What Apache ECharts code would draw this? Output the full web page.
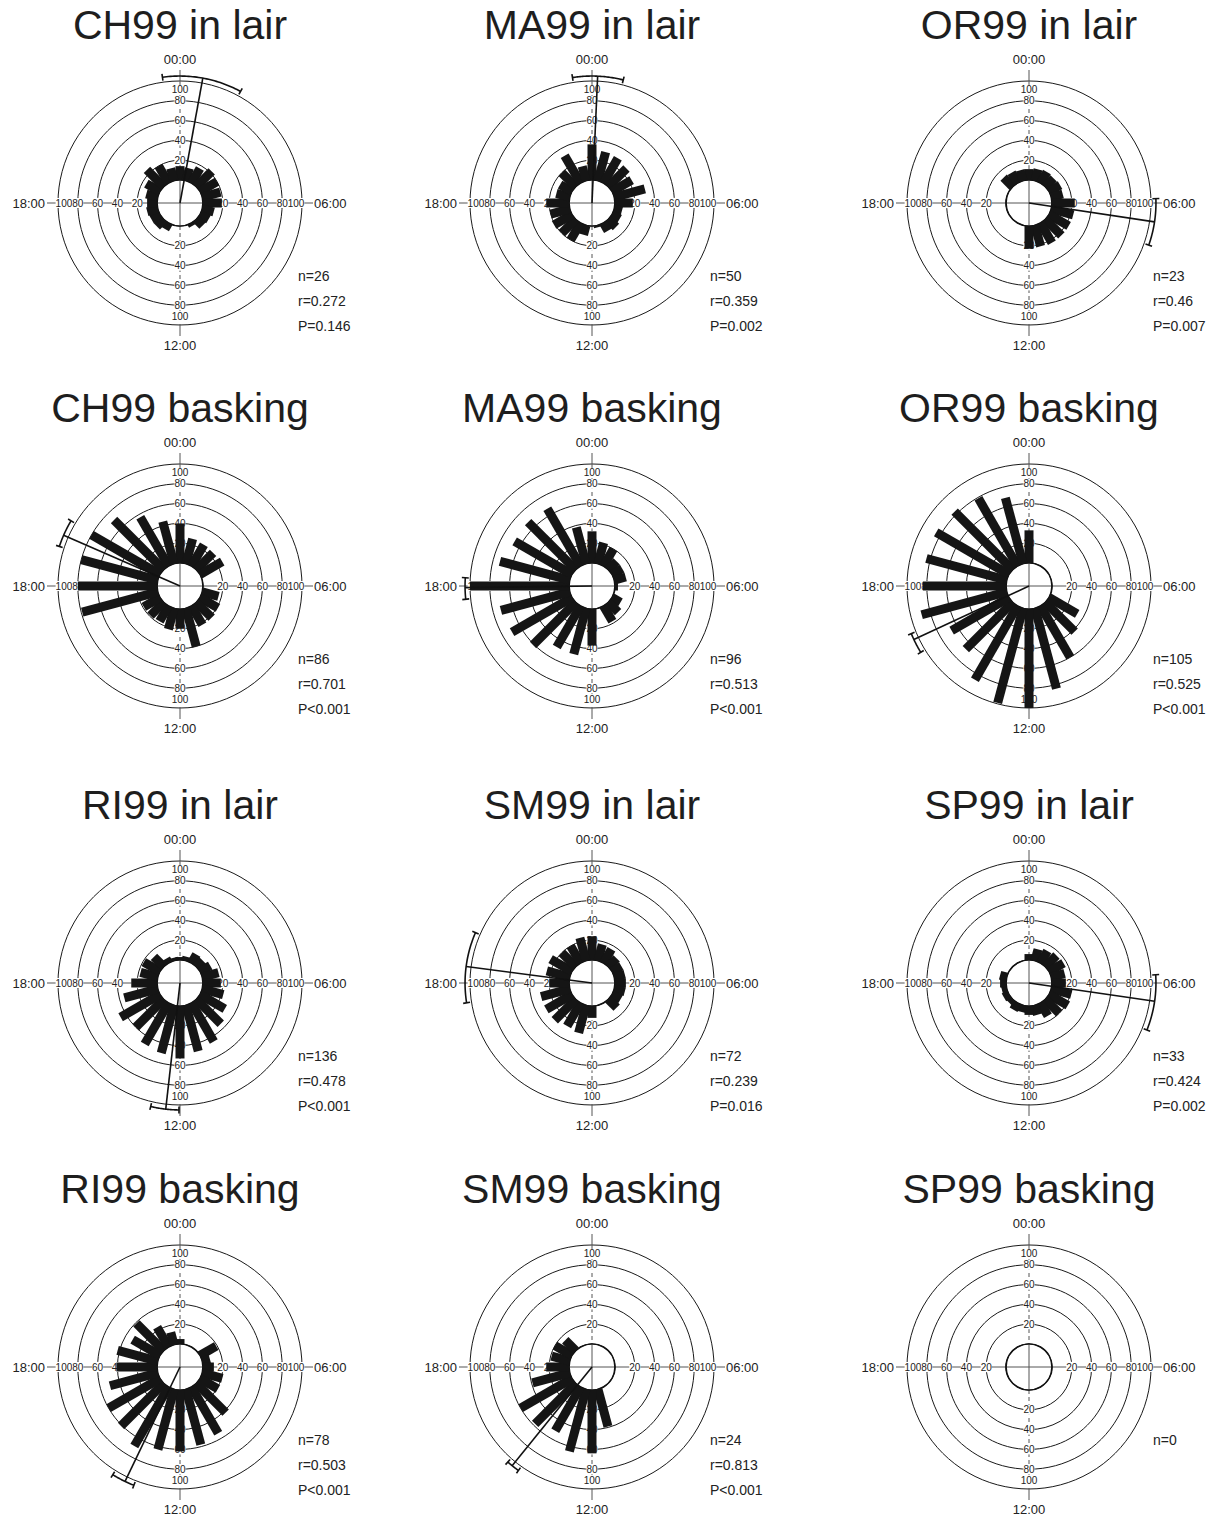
<!DOCTYPE html>
<html>
<head>
<meta charset="utf-8">
<title>Daily activity roses</title>
<script src="https://cdn.jsdelivr.net/npm/echarts@6/dist/echarts.min.js"></script>
<style>
  html, body { margin: 0; padding: 0; background: #fff; }
  #chart { width: 1213px; height: 1517px; }
</style>
</head>
<body>
<div id="chart"></div>
<script>
// hourly bins, 00:00 at the top, clockwise
const hours = [0, 1, 2, 3, 4, 5, 6, 7, 8, 9, 10, 11, 12, 13, 14, 15, 16, 17, 18, 19, 20, 21, 22, 23]

const panelTitles = [
  'CH99 in lair', 'MA99 in lair', 'OR99 in lair',
  'CH99 basking', 'MA99 basking', 'OR99 basking',
  'RI99 in lair', 'SM99 in lair', 'SP99 in lair',
  'RI99 basking', 'SM99 basking', 'SP99 basking'
]

// bar lengths, one per hour
const ch99Lair = [14, 13, 17, 22, 20, 19, 19, 12, 10, 9, 3, 0, 0, 0, 7, 10, 10, 11, 10, 12, 16, 24, 20, 13]
const ma99Lair = [36, 30, 29, 26, 23, 32, 18, 8, 9, 11, 9, 2, 0, 10, 20, 20, 21, 20, 23, 14, 14, 20, 32, 15]
const or99Lair = [11, 12, 13, 12, 13, 12, 23, 23, 23, 23, 23, 22, 23, 0, 0, 0, 0, 0, 0, 0, 0, 13, 12, 11]
const ch99Bask = [40, 26, 25, 24, 26, 0, 0, 17, 21, 22, 22, 40, 20, 22, 18, 19, 19, 79, 80, 80, 80, 71, 57, 44]
const ma99Bask = [32, 22, 20, 12, 12, 12, 3, 0, 10, 14, 18, 0, 37, 48, 48, 61, 70, 72, 100, 73, 67, 68, 67, 38]
const or99Bask = [33, 0, 0, 0, 0, 0, 0, 0, 33, 42, 60, 84, 100, 99, 86, 67, 67, 89, 84, 84, 85, 83, 79, 69]
const ri99Lair = [3, 4, 10, 9, 12, 17, 18, 22, 29, 35, 45, 48, 53, 50, 48, 40, 46, 35, 26, 18, 19, 14, 5, 3]
const sm99Lair = [24, 17, 16, 12, 11, 11, 11, 11, 10, 12, 0, 0, 12, 29, 27, 30, 30, 30, 20, 24, 25, 20, 20, 24]
const sp99Lair = [6, 12, 14, 16, 17, 14, 14, 21, 22, 20, 15, 10, 9, 7, 8, 5, 6, 5, 6, 7, 0, 0, 0, 0]
const ri99Bask = [5, 0, 0, 0, 19, 8, 11, 21, 21, 42, 54, 58, 62, 63, 69, 61, 60, 50, 41, 42, 32, 39, 23, 13]
const sm99Bask = [0, 0, 0, 0, 0, 0, 0, 0, 0, 0, 0, 39, 64, 65, 51, 58, 60, 39, 23, 19, 20, 15, 0, 0]
const sp99Bask = [0, 0, 0, 0, 0, 0, 0, 0, 0, 0, 0, 0, 0, 0, 0, 0, 0, 0, 0, 0, 0, 0, 0, 0]

const panelCounts = [
  ch99Lair, ma99Lair, or99Lair,
  ch99Bask, ma99Bask, or99Bask,
  ri99Lair, sm99Lair, sp99Lair,
  ri99Bask, sm99Bask, sp99Bask
]

// mean direction (hours) and its confidence interval; null = no vector
const meanHour = [0.69, 0.17, 6.57, 19.57, 17.95, 16.34, 12.43, 18.5, 6.55, 13.71, 14.6, null]
const ciLow = [-0.53, -0.59, 5.87, 19.21, 17.6, 15.9, 12.03, 17.4, 5.75, 13.42, 14.36, null]
const ciHigh = [1.9, 0.95, 7.29, 20.06, 18.25, 16.53, 12.89, 19.56, 7.45, 14.13, 14.77, null]

const nText = ['n=26', 'n=50', 'n=23', 'n=86', 'n=96', 'n=105', 'n=136', 'n=72', 'n=33', 'n=78', 'n=24', 'n=0']
const rText = ['r=0.272', 'r=0.359', 'r=0.46', 'r=0.701', 'r=0.513', 'r=0.525', 'r=0.478', 'r=0.239', 'r=0.424', 'r=0.503', 'r=0.813', '']
const pText = ['P=0.146', 'P=0.002', 'P=0.007', 'P<0.001', 'P<0.001', 'P<0.001', 'P<0.001', 'P=0.016', 'P=0.002', 'P<0.001', 'P<0.001', '']

const radialTicks = [100, 80, 60, 40, 20]
const tickHours = [0, 6, 12, 18]

// layout
const colX = [180, 592, 1029]
const rowY = [203, 586, 983, 1367]
const statX = [298, 710, 1153]
const FONT = '"Liberation Sans", Arial, Helvetica, sans-serif'
const BAR_HALF = 4.5
const VEC_R = 105

const chart = echarts.init(document.getElementById('chart'), null, { renderer: 'svg' })

function renderFrame(params, api) {
  const cs = params.coordSys
  const cx = cs.cx
  const cy = cs.cy
  const r0 = cs.r0
  const r = cs.r
  const ext = r + 11
  const axisColor = '#555'
  const children = [
    // horizontal axis
    { type: 'line', shape: { x1: cx - ext, y1: cy, x2: cx + ext, y2: cy }, style: { stroke: axisColor, lineWidth: 1 } },
    // vertical axis: solid outside and in the hole, dashed across the rings
    { type: 'line', shape: { x1: cx, y1: cy - ext, x2: cx, y2: cy - r }, style: { stroke: axisColor, lineWidth: 1 } },
    { type: 'line', shape: { x1: cx, y1: cy - r, x2: cx, y2: cy - r0 }, style: { stroke: axisColor, lineWidth: 1, lineDash: [4, 3] } },
    { type: 'line', shape: { x1: cx, y1: cy - r0, x2: cx, y2: cy + r0 }, style: { stroke: axisColor, lineWidth: 1 } },
    { type: 'line', shape: { x1: cx, y1: cy + r0, x2: cx, y2: cy + r }, style: { stroke: axisColor, lineWidth: 1, lineDash: [4, 3] } },
    { type: 'line', shape: { x1: cx, y1: cy + r, x2: cx, y2: cy + ext }, style: { stroke: axisColor, lineWidth: 1 } },
    // inner hole
    { type: 'circle', shape: { cx: cx, cy: cy, r: r0 }, style: { fill: 'none', stroke: '#111', lineWidth: 1.7 } }
  ]
  radialTicks.forEach(t => {
    tickHours.forEach(h => {
      // the 100 label sits just inside the outer ring
      let rv = t
      if (t === 100) rv = (h % 12 === 0) ? 91 : 94
      const p = api.coord([rv, h])
      children.push({
        type: 'text',
        x: p[0],
        y: p[1],
        style: {
          text: String(t),
          font: '10px ' + FONT,
          fill: '#222',
          align: 'center',
          verticalAlign: 'middle',
          backgroundColor: '#fff',
          padding: [0, 0]
        }
      })
    })
  })
  const timeStyle = { font: '13px ' + FONT, fill: '#222', verticalAlign: 'middle' }
  children.push(
    { type: 'text', x: cx, y: cy - r - 22, style: Object.assign({ text: '00:00', align: 'center' }, timeStyle) },
    { type: 'text', x: cx, y: cy + r + 20, style: Object.assign({ text: '12:00', align: 'center' }, timeStyle) },
    { type: 'text', x: cx - r - 13, y: cy, style: Object.assign({ text: '18:00', align: 'right' }, timeStyle) },
    { type: 'text', x: cx + r + 12, y: cy, style: Object.assign({ text: '06:00', align: 'left' }, timeStyle) }
  )
  return { type: 'group', children: children }
}

function renderBar(params, api) {
  const v = api.value(0)
  if (!v) return { type: 'group', children: [] }
  const h = api.value(1)
  const p0 = api.coord([0, h])
  const p1 = api.coord([v, h])
  const dx = p1[0] - p0[0]
  const dy = p1[1] - p0[1]
  const len = Math.sqrt(dx * dx + dy * dy)
  const nx = -dy / len * BAR_HALF
  const ny = dx / len * BAR_HALF
  return {
    type: 'polygon',
    shape: {
      points: [
        [p0[0] + nx, p0[1] + ny],
        [p1[0] + nx, p1[1] + ny],
        [p1[0] - nx, p1[1] - ny],
        [p0[0] - nx, p0[1] - ny]
      ]
    },
    style: { fill: '#151515' }
  }
}

function renderVector(params, api) {
  const cs = params.coordSys
  const rv = api.value(0)
  const m = api.value(1)
  const lo = api.value(2)
  const hi = api.value(3)
  const end = api.coord([rv, m])
  const arc = []
  for (let k = 0; k <= 40; k++) {
    arc.push(api.coord([rv, lo + (hi - lo) * k / 40]))
  }
  const capLo = [api.coord([rv - 3.5, lo]), api.coord([rv + 3.5, lo])]
  const capHi = [api.coord([rv - 3.5, hi]), api.coord([rv + 3.5, hi])]
  const st = { stroke: '#111', lineWidth: 1.6, fill: 'none' }
  return {
    type: 'group',
    children: [
      { type: 'line', shape: { x1: cs.cx, y1: cs.cy, x2: end[0], y2: end[1] }, style: st },
      { type: 'polyline', shape: { points: arc }, style: st },
      { type: 'polyline', shape: { points: capLo }, style: st },
      { type: 'polyline', shape: { points: capHi }, style: st }
    ]
  }
}

const polar = []
const radiusAxis = []
const angleAxis = []
const series = []
const graphic = []

panelCounts.forEach((counts, i) => {
  const cx = colX[i % 3]
  const cy = rowY[Math.floor(i / 3)]
  polar.push({ center: [cx, cy], radius: [23, 122] })
  radiusAxis.push({
    polarIndex: i,
    type: 'value',
    min: 0,
    max: 100,
    interval: 20,
    axisLine: { show: false },
    axisTick: { show: false },
    axisLabel: { show: false },
    splitLine: { show: true, lineStyle: { color: '#1a1a1a', width: 1 } }
  })
  angleAxis.push({
    polarIndex: i,
    type: 'value',
    min: 0,
    max: 24,
    interval: 6,
    startAngle: 90,
    clockwise: true,
    axisLine: { show: false },
    axisTick: { show: false },
    axisLabel: { show: false },
    splitLine: { show: false }
  })
  series.push({
    type: 'custom',
    coordinateSystem: 'polar',
    polarIndex: i,
    z: 1,
    silent: true,
    data: [[0, 0]],
    renderItem: renderFrame
  })
  series.push({
    type: 'custom',
    coordinateSystem: 'polar',
    polarIndex: i,
    z: 3,
    silent: true,
    data: counts.map((v, k) => [v, hours[k]]),
    renderItem: renderBar
  })
  if (meanHour[i] !== null) {
    series.push({
      type: 'custom',
      coordinateSystem: 'polar',
      polarIndex: i,
      z: 4,
      silent: true,
      data: [[VEC_R, meanHour[i], ciLow[i], ciHigh[i]]],
      renderItem: renderVector
    })
  }
  graphic.push({
    type: 'text',
    x: cx,
    y: cy - 178,
    style: { text: panelTitles[i], font: '41px ' + FONT, fill: '#1e1e1e', align: 'center', verticalAlign: 'middle' }
  })
  const stats = [nText[i], rText[i], pText[i]]
  stats.forEach((s, k) => {
    if (!s) return
    graphic.push({
      type: 'text',
      x: statX[i % 3],
      y: cy + 73 + k * 25,
      style: { text: s, font: '14px ' + FONT, fill: '#222', align: 'left', verticalAlign: 'middle' }
    })
  })
})

chart.setOption({
  animation: false,
  backgroundColor: '#fff',
  polar: polar,
  radiusAxis: radiusAxis,
  angleAxis: angleAxis,
  graphic: graphic,
  series: series
})
</script>
</body>
</html>
